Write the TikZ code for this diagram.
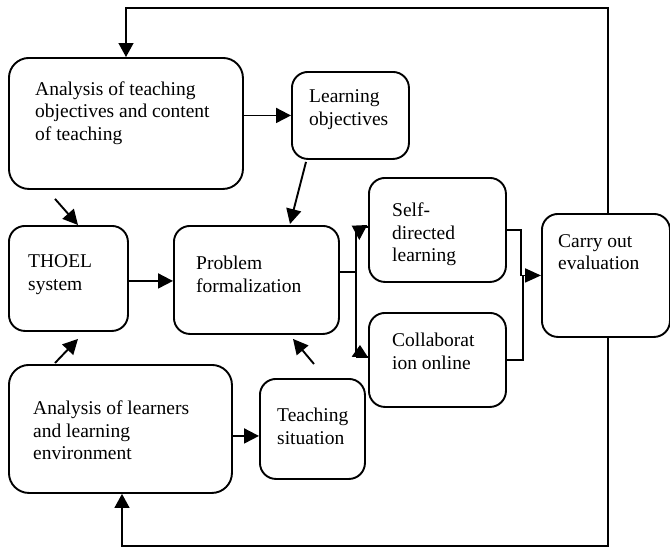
\documentclass[tikz,border=0pt]{standalone}
\usepackage{fontspec}
\setmainfont{Liberation Serif}
\usetikzlibrary{arrows.meta,calc}

\tikzset{
  box/.style={draw, line width=1.9pt, rounded corners=16pt, inner sep=0pt,
              anchor=north west},
  bigbox/.style={box, rounded corners=20pt},
  txt/.style={anchor=north west, inner sep=0pt, align=left,
              font=\fontsize{19.5}{22.5}\selectfont, execute at begin node=\strut},
  conn/.style={line width=1.9pt},
  arr/.style={conn, -{Triangle[length=15pt,width=15pt]}},
  loopline/.style={line width=1.3pt},
  looparr/.style={loopline, -{Triangle[length=14pt,width=15pt]}},
}

\begin{document}
\begin{tikzpicture}[x=1pt,y=-1pt]
  \useasboundingbox (0,0) rectangle (670,547);

  % boxes
  \node[bigbox, minimum width=234pt, minimum height=131pt] (A) at (8,57) {};
  \node[box, minimum width=117pt, minimum height=87pt]  (L) at (291,71) {};
  \node[box, minimum width=119pt, minimum height=105pt] (T) at (8,225) {};
  \node[box, minimum width=165pt, minimum height=108pt] (P) at (173,225) {};
  \node[box, minimum width=137pt, minimum height=104pt] (S) at (368,177) {};
  \node[box, minimum width=137pt, minimum height=94pt]  (C) at (368,312) {};
  \node[box, minimum width=128pt, minimum height=123pt] (E) at (541,213) {};
  \node[bigbox, minimum width=223pt, minimum height=128pt] (B) at (8,364) {};
  \node[box, minimum width=105pt, minimum height=100pt] (U) at (259,378) {};

  % texts
  \node[txt] (At) at ($(A.north west)+(27,24.5)$) {Analysis of teaching\\objectives and content\\of teaching};
  \node[txt] (Lt) at ($(L.north west)+(18,18.5)$) {Learning\\objectives};
  \node[txt] (Tt) at ($(T.north west)+(20,29.5)$) {THOEL\\system};
  \node[txt] (Pt) at ($(P.north west)+(23,31)$) {Problem\\formalization};
  \node[txt] (St) at ($(S.north west)+(24,26)$) {Self-\\directed\\learning};
  \node[txt] (Ct) at ($(C.north west)+(24,21)$) {Collaborat\\ion online};
  \node[txt] (Et) at ($(E.north west)+(17,21)$) {Carry out\\evaluation};
  \node[txt] (Bt) at ($(B.north west)+(25,37)$) {Analysis of learners\\and learning\\environment};
  \node[txt] (Ut) at ($(U.north west)+(18,30)$) {Teaching\\situation};

  % straight arrows
  \draw[arr] (A.east |- L.west) -- (L.west);
  \draw[arr] ($(T.east)+(0,2.5)$) -- ($(P.west)+(0,1)$);
  \draw[arr] ($(B.east)+(0,7)$) -- ($(U.west)+(0,7)$);

  % slanted arrows
  \coordinate (a1) at ($(A.south west)+(47,9)$);
  \coordinate (a2) at ($(T.north west)+(70,0)$);
  \draw[arr] (a1) -- (a2);
  \coordinate (l1) at ($(L.south west)+(15,2)$);
  \coordinate (l2) at ($(P.north west)+(117,-1)$);
  \draw[arr] (l1) -- (l2);
  \coordinate (u1) at ($(U.north west)+(55,-14)$);
  \coordinate (u2) at ($(P.south west)+(120,4)$);
  \draw[arr] (u1) -- (u2);
  \coordinate (b1) at ($(B.north west)+(47,-1)$);
  \coordinate (b2) at ($(T.south west)+(70,7)$);
  \draw[arr] (b1) -- (b2);

  % branch from problem formalization
  \coordinate (pb) at ($(P.north east)+(0,47)$);
  \coordinate (bx) at (356,0);
  \coordinate (sy) at ($(S.north west)+(0,50)$);
  \coordinate (cy) at ($(C.north west)+(0,45)$);
  \draw[conn] (pb) -- (pb -| bx);
  \draw[conn] (sy -| bx) -- (cy -| bx);
  \draw[conn] (sy -| bx) -- (sy);
  \draw[conn] (cy -| bx) -- (cy);
  \fill ($(S.north west)+(-16.3,48.7)$) -- ($(S.north west)+(-0.7,48)$)
        -- ($(S.north west)+(-8.7,63)$) -- cycle;
  \fill ($(C.north west)+(-16.3,44.7)$) -- ($(C.north west)+(0.3,45.7)$)
        -- ($(C.north west)+(-8,33)$) -- cycle;

  % joining into evaluation
  \coordinate (j1) at (521,0);
  \coordinate (j2) at (523,0);
  \draw[conn, -{Triangle[length=16pt,width=14pt]}]
    (S.east) -- (S.east -| j1) -- (j1 |- E.west) -- (E.west);
  \draw[conn] (C.east) -- (C.east -| j2) -- (j2 |- E.west);

  % feedback loops
  \coordinate (tr) at (608,8);
  \coordinate (tl) at (126,8);
  \draw[looparr] (E.north -| tr) -- (tr) -- (tl) -- (A.north -| tl);
  \coordinate (br) at (608,546);
  \coordinate (bl) at (122,546);
  \draw[looparr] (E.south -| br) -- (br) -- (bl) -- (B.south -| bl);
\end{tikzpicture}
\end{document}
